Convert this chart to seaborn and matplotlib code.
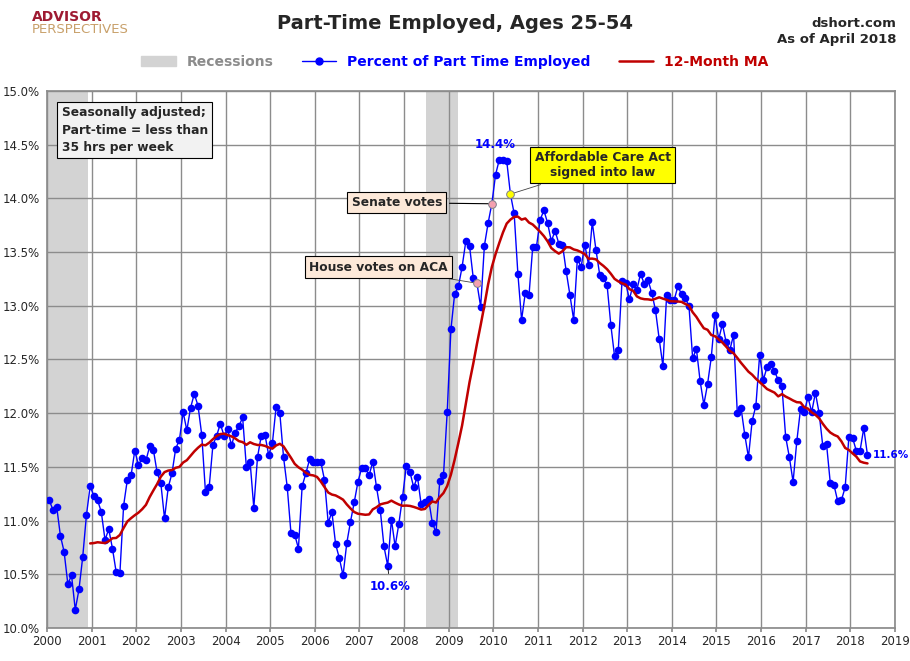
import numpy as np
import pandas as pd
import matplotlib
matplotlib.use("Agg")
import matplotlib.pyplot as plt
import seaborn as sns
from matplotlib.patches import Patch
from matplotlib.lines import Line2D

part_time_pct = [
    11.19, 11.10, 11.13, 10.86, 10.71, 10.41, 10.49, 10.17, 10.36, 10.66, 11.05, 11.32,
    11.23, 11.19, 11.08, 10.82, 10.92, 10.74, 10.52, 10.51, 11.14, 11.38, 11.42, 11.65,
    11.52, 11.58, 11.56, 11.69, 11.66, 11.45, 11.35, 11.02, 11.31, 11.44, 11.67, 11.75,
    12.01, 11.84, 12.05, 12.18, 12.07, 11.80, 11.27, 11.31, 11.70, 11.79, 11.90, 11.79,
    11.85, 11.70, 11.82, 11.88, 11.96, 11.50, 11.55, 11.12, 11.59, 11.79, 11.80,
    11.61, 11.72, 12.06, 12.00, 11.59, 11.31, 10.88, 10.87, 10.74, 11.32, 11.44, 11.57,
    11.55, 11.55, 11.55, 11.38, 10.98, 11.08, 10.78, 10.65, 10.49, 10.79, 10.99, 11.17,
    11.36, 11.49, 11.49, 11.42, 11.55, 11.31, 11.10, 10.76, 10.58, 11.01, 10.76, 10.97,
    11.22, 11.51, 11.45, 11.31, 11.41, 11.15, 11.17, 11.20, 10.98, 10.89, 11.37, 11.42,
    12.01, 12.78, 13.11, 13.18, 13.36, 13.60, 13.56, 13.26, 13.21, 12.99, 13.56, 13.77,
    13.95, 14.22, 14.36, 14.36, 14.35, 14.04, 13.86, 13.30, 12.87, 13.12, 13.10, 13.55,
    13.55, 13.80, 13.89, 13.77, 13.60, 13.70, 13.58, 13.57, 13.32, 13.10, 12.87, 13.44,
    13.36, 13.57, 13.38, 13.78, 13.52, 13.29, 13.26, 13.19, 12.82, 12.53, 12.59, 13.23,
    13.21, 13.06, 13.20, 13.15, 13.30, 13.20, 13.24, 13.12, 12.96, 12.69, 12.44, 13.10,
    13.05, 13.05, 13.18, 13.11, 13.07, 13.00, 12.51, 12.60, 12.30, 12.08, 12.27, 12.52,
    12.91, 12.69, 12.83, 12.66, 12.59, 12.73, 12.00, 12.05, 11.80, 11.59, 11.93, 12.07,
    12.54, 12.31, 12.43, 12.46, 12.39, 12.31, 12.25, 11.78, 11.59, 11.36, 11.74, 12.04,
    12.01, 12.15, 12.01, 12.19, 12.00, 11.69, 11.71, 11.35, 11.33, 11.18, 11.19, 11.31,
    11.78, 11.77, 11.65, 11.65, 11.86, 11.61,
]
recessions = [(2000.0, 2000.92), (2008.5, 2009.2)]
house_idx, senate_idx, aca_idx, low_idx = 115, 119, 124, 91
year_ticks = list(range(2000, 2020))
y_ticks = [10.0, 10.5, 11.0, 11.5, 12.0, 12.5, 13.0, 13.5, 14.0, 14.5, 15.0]

n = len(part_time_pct)
df = pd.DataFrame({"x": 2000.05 + np.arange(n) / 12.0, "pct": part_time_pct})
df["ma"] = df["pct"].rolling(12).mean()

sns.set_theme(style="white")
plt.rcParams["font.family"] = ["DejaVu Sans"]
fig = plt.figure(figsize=(9.1, 6.61), dpi=100)
ax = fig.add_axes([47 / 910, 33 / 661, 848 / 910, 537 / 661])

for a, b in recessions:
    ax.axvspan(a, b, color="#d3d3d3", lw=0, zorder=0)

sns.lineplot(data=df, x="x", y="pct", ax=ax, color="#0000ff", lw=1, marker="o",
             markersize=5.5, markeredgewidth=0, zorder=3)
sns.lineplot(data=df.dropna(), x="x", y="ma", ax=ax, color="#c00000", lw=1.8, zorder=4)

for idx, c in [(house_idx, "#f4a0b0"), (senate_idx, "#f4a0b0"), (aca_idx, "#ffff00")]:
    ax.plot(df.x[idx], df.pct[idx], "o", ms=5.5, mfc=c, mec="#888888", mew=0.7, zorder=5)

ax.set_xlim(2000, 2019)
ax.set_ylim(10, 15)
ax.set_xticks(year_ticks)
ax.set_xticklabels([str(y) for y in year_ticks], fontsize=8.5)
ax.set_yticks(y_ticks)
ax.set_yticklabels([f"{v:.1f}%" for v in y_ticks], fontsize=8.5)
ax.set_xlabel("")
ax.set_ylabel("")
ax.grid(True, color="#8c8c8c", lw=1)
ax.set_axisbelow(True)
for s in ax.spines.values():
    s.set_color("#8c8c8c")
ax.tick_params(axis="both", length=3, color="#8c8c8c", pad=2, bottom=True)

# annotations
ax.text(2000.33, 14.86, "Seasonally adjusted;\nPart-time = less than\n35 hrs per week",
        fontsize=8.8, fontweight="bold", va="top", ha="left", linespacing=1.45,
        bbox=dict(boxstyle="square,pad=0.35", fc="#f2f2f2", ec="black", lw=0.8), zorder=6)
pk = int(np.argmax(part_time_pct))
ax.text(df.x[pk] - 0.1, df.pct[pk] + 0.08, "14.4%", color="#0000ff", fontsize=8.5,
        ha="center", va="bottom", fontweight="bold")
ax.annotate("10.6%", xy=(df.x[low_idx], df.pct[low_idx]), xytext=(df.x[low_idx] + 0.05, 10.39),
            color="#0000ff", fontsize=8.5, ha="center", va="center", fontweight="bold",
            arrowprops=dict(arrowstyle="-", color="black", lw=0.6))
ax.text(df.x[n - 1] + 0.12, df.pct[n - 1], "11.6%", color="#0000ff", fontsize=7.5,
        va="center", fontweight="bold")
ax.annotate("Senate votes", xy=(df.x[senate_idx], df.pct[senate_idx]), xytext=(2007.84, 13.96),
            fontsize=8.8, fontweight="bold", ha="center", va="center",
            bbox=dict(boxstyle="square,pad=0.35", fc="#fde9d9", ec="black", lw=0.8),
            arrowprops=dict(arrowstyle="-", color="black", lw=0.8))
ax.annotate("House votes on ACA", xy=(df.x[house_idx], df.pct[house_idx]), xytext=(2007.42, 13.36),
            fontsize=8.8, fontweight="bold", ha="center", va="center",
            bbox=dict(boxstyle="square,pad=0.35", fc="#fde9d9", ec="black", lw=0.8),
            arrowprops=dict(arrowstyle="-", color="#444444", lw=0.6))
ax.annotate("Affordable Care Act\nsigned into law", xy=(df.x[aca_idx], df.pct[aca_idx]), xytext=(2012.45, 14.31),
            fontsize=8.8, fontweight="bold", ha="center", va="center",
            bbox=dict(boxstyle="square,pad=0.35", fc="#ffff00", ec="black", lw=0.8),
            arrowprops=dict(arrowstyle="-", color="#444444", lw=0.6))

# header
fig.text(0.5, 0.965, "Part-Time Employed, Ages 25-54", ha="center", va="center",
         fontsize=14, fontweight="bold")
fig.text(0.985, 0.965, "dshort.com", ha="right", va="center", fontsize=9.5, fontweight="bold")
fig.text(0.985, 0.94, "As of April 2018", ha="right", va="center", fontsize=9.5, fontweight="bold")
fig.text(0.035, 0.975, "ADVISOR", ha="left", va="center", fontsize=10, fontweight="bold", color="#9e1b32")
fig.text(0.035, 0.955, "PERSPECTIVES", ha="left", va="center", fontsize=9.5, color="#c8a06a")

handles = [Patch(color="#d3d3d3", label="Recessions"),
           Line2D([], [], color="#0000ff", lw=1, marker="o", ms=5, label="Percent of Part Time Employed"),
           Line2D([], [], color="#c00000", lw=1.8, label="12-Month MA")]
leg = fig.legend(handles=handles, loc="center", bbox_to_anchor=(0.5, 0.906), ncol=3,
                 frameon=False, fontsize=10, handlelength=2.5, columnspacing=2)
for t, c in zip(leg.get_texts(), ["#8c8c8c", "#0000ff", "#c00000"]):
    t.set_color(c)
    t.set_fontweight("bold")

fig.savefig("out.png", dpi=100)
